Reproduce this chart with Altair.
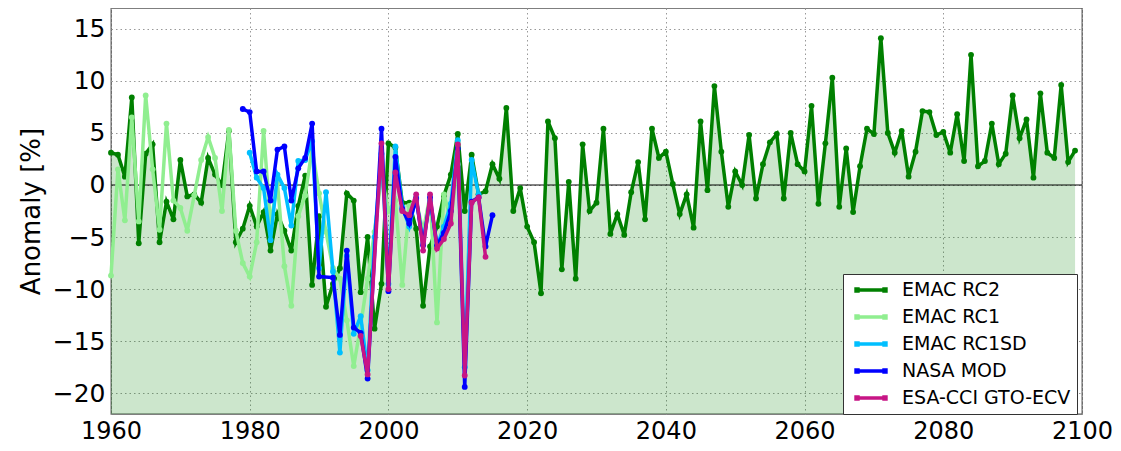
import pandas as pd
import altair as alt

# Series names and colours, in the legend order
series_names = ["EMAC RC2", "EMAC RC1", "EMAC RC1SD", "NASA MOD", "ESA-CCI GTO-ECV"]
series_colors = ["#008000", "#90ee90", "#00bfff", "#0000ff", "#c71585"]

# EMAC RC2, 1960-2099
rc2_years = list(range(1960, 2100))
rc2_vals = [
    3.1, 2.9, 0.8, 8.4, -5.6, 3.0, 3.9, -5.5, -1.6, -3.3,
    2.4, -1.1, -0.9, -1.7, 2.6, 1.0, 0.0, 5.2, -5.5, -4.2,
    -2.0, -4.0, -2.6, -6.3, -2.8, -4.4, -6.3, -2.0, 0.9, -9.6,
    -3.0, -11.7, -9.5, -8.0, -0.8, -1.5, -10.3, -5.0, -13.8, -9.5,
    4.0, 3.6, -1.7, -1.7, -4.2, -11.6, -5.9, -4.0, -1.0, 1.0,
    4.9, -2.5, 2.9, -0.9, -0.6, 2.0, 0.6, 7.4, -2.5, -0.3,
    -4.0, -5.5, -10.4, 6.1, 4.5, -8.1, 0.3, -9.0, 3.9, -2.5,
    -1.7, 5.4, -4.7, -2.8, -4.8, -0.7, 2.2, -3.3, 5.4, 2.6,
    3.2, 0.1, -2.8, -0.9, -4.1, 6.1, -0.5, 9.5, 3.2, -2.1,
    1.3, 0.0, 4.8, -1.3, 2.0, 4.1, 4.9, -1.3, 5.0, 2.0,
    1.3, 7.6, -1.8, 4.0, 10.3, -2.1, 3.5, -2.6, 1.8, 5.4,
    4.9, 14.1, 5.0, 3.1, 5.2, 0.8, 3.2, 7.1, 7.0, 4.8,
    5.1, 3.1, 6.8, 2.3, 12.5, 1.8, 2.3, 5.9, 2.0, 3.0,
    8.6, 4.5, 6.3, 0.7, 8.8, 3.1, 2.6, 9.6, 2.2, 3.3,
]

# EMAC RC1, 1960-2010
rc1_years = list(range(1960, 2011))
rc1_vals = [
    -8.7, 1.5, -3.4, 6.5, -3.5, 8.6, 1.5, -4.3, 5.9, -1.5,
    -2.2, -4.4, -1.0, 2.4, 4.6, 2.6, -2.5, 5.3, -4.4, -7.5,
    -8.8, -5.5, 5.2, -3.8, 0.2, -7.8, -11.6, -3.0, -1.0, 3.5,
    -0.8, -4.5, -8.0, -9.0, -13.0, -17.4, -13.5, -9.0, -4.5, 1.0,
    -2.5, -1.5, -9.6, -2.0, -1.5, -4.5, -1.0, -13.2, -0.9, -3.4,
    2.0,
]

# EMAC RC1SD, 1980-2013
rc1sd_years = list(range(1980, 2014))
rc1sd_vals = [
    3.1, 0.7, -0.3, -5.3, 1.0, -0.3, -3.9, 2.3, 2.4, 4.2,
    -8.0, -0.7, -8.3, -16.1, -6.8, -14.3, -12.6, -17.8, -5.0, 3.0,
    -9.5, 3.7, -2.1, -4.0, -1.2, -5.6, -1.5, -5.9, -4.0, -1.8,
    4.3, -17.5, 2.4, -0.9,
]

# NASA MOD
nasa_years = [
    1979, 1980, 1981, 1982, 1983, 1984, 1985, 1986, 1987, 1988, 1989, 1990,
    1992, 1993, 1994, 1995, 1996, 1997,
    1999, 2000, 2001, 2002, 2003, 2004, 2005, 2006, 2007, 2008, 2009, 2010,
    2011, 2012, 2013, 2014, 2015,
]
nasa_vals = [
    7.3, 7.0, 1.3, 1.3, -1.5, 3.4, 3.7, -1.5, 1.6, 2.6, 5.9, -8.8,
    -8.9, -14.4, -6.3, -13.7, -14.2, -18.6,
    5.4, -10.2, 2.7, -2.3, -3.7, -1.3, -5.8, -1.2, -5.8, -4.6, -2.5, 3.5,
    -19.4, -1.6, -1.2, -5.9, -2.9,
]

# ESA-CCI GTO-ECV
esa_years = [
    1996, 1997, 1999, 2000, 2001, 2002, 2003, 2004, 2005, 2006, 2007, 2008,
    2009, 2010, 2011, 2012, 2013, 2014,
]
esa_vals = [
    -14.5, -18.2, 4.0, -10.0, 1.2, -2.5, -2.9, -0.9, -6.3, -0.9, -6.1, -5.2,
    -3.7, 3.9, -18.3, -1.7, -1.2, -6.9,
]

x_ticks = [1960, 1980, 2000, 2020, 2040, 2060, 2080, 2100]
y_ticks = [-20, -15, -10, -5, 0, 5, 10, 15]
y_bottom = -22
y_top = 17

frames = []
for name, yrs, vals in [
    ("EMAC RC2", rc2_years, rc2_vals),
    ("EMAC RC1", rc1_years, rc1_vals),
    ("EMAC RC1SD", rc1sd_years, rc1sd_vals),
    ("NASA MOD", nasa_years, nasa_vals),
    ("ESA-CCI GTO-ECV", esa_years, esa_vals),
]:
    frames.append(pd.DataFrame({"series": name, "year": yrs, "value": vals}))
source = pd.concat(frames, ignore_index=True)

W, H = 971, 406
FONT = "DejaVu Sans"

x_enc = alt.X("year:Q", title=None,
              scale=alt.Scale(domain=[1960, 2100], nice=False, zero=False),
              axis=alt.Axis(values=x_ticks, format="d", labelPadding=5,
                            labelFontSize=24, labelFlush=False))
y_enc = alt.Y("value:Q", title="Anomaly [%]",
              scale=alt.Scale(domain=[y_bottom, y_top], nice=False, zero=False),
              axis=alt.Axis(values=y_ticks, labelPadding=6, titleX=-80,
                            titleBaseline="middle", titleFontSize=26,
                            labelFlush=False))

# green shading below the RC2 curve, down to the bottom of the axes
area = alt.Chart(source).transform_filter(
    alt.datum.series == "EMAC RC2"
).mark_area(color="green", opacity=0.2).encode(
    x=x_enc, y=y_enc, y2=alt.datum(y_bottom)
)

zero = alt.Chart(pd.DataFrame({"z": [0]})).mark_rule(
    color="black", opacity=0.65, strokeWidth=1.5
).encode(y=alt.Y("z:Q"))

legend = alt.Legend(
    title=None, orient="none", legendX=732, legendY=266,
    symbolType="M-2,0L2,0M-1.87,-0.12L-1.63,-0.12L-1.63,0.12L-1.87,0.12Z"
               "M1.63,-0.12L1.87,-0.12L1.87,0.12L1.63,0.12Z",
    symbolSize=256, symbolStrokeWidth=3.5, symbolOffset=12,
    labelOffset=21, labelFontSize=19, labelFont=FONT, labelColor="black",
    labelLimit=0, rowPadding=7, padding=6, strokeColor="#333",
    fillColor="white", cornerRadius=0,
)
color = alt.Color("series:N",
                  scale=alt.Scale(domain=series_names, range=series_colors),
                  legend=legend)

lines = []
for name in series_names:
    lines.append(
        alt.Chart(source).transform_filter(alt.datum.series == name)
        .mark_line(strokeWidth=3.5,
                   point=alt.OverlayMarkDef(filled=True, size=34))
        .encode(x=x_enc, y=y_enc, color=color)
    )

chart = alt.layer(area, zero, *lines).properties(
    width=W, height=H,
    padding={"left": 103, "top": 0, "right": 31, "bottom": 29},
    autosize=alt.AutoSizeParams(type="none"),
    title=alt.Title("35°N-60°N March", fontSize=26, font=FONT,
                    fontWeight="normal", offset=2, color="black"),
    background="white",
).configure_view(
    stroke="#555", strokeWidth=1.3
).configure_axis(
    labelFont=FONT, labelFontSize=25, labelColor="black",
    titleFont=FONT, titleFontWeight="normal", titleColor="black",
    grid=True, gridColor="#999", gridDash=[1.5, 3], gridWidth=1,
    domain=False, ticks=False, tickSize=0,
)

chart.save("out.html", embed_options={"renderer": "svg", "actions": False})
